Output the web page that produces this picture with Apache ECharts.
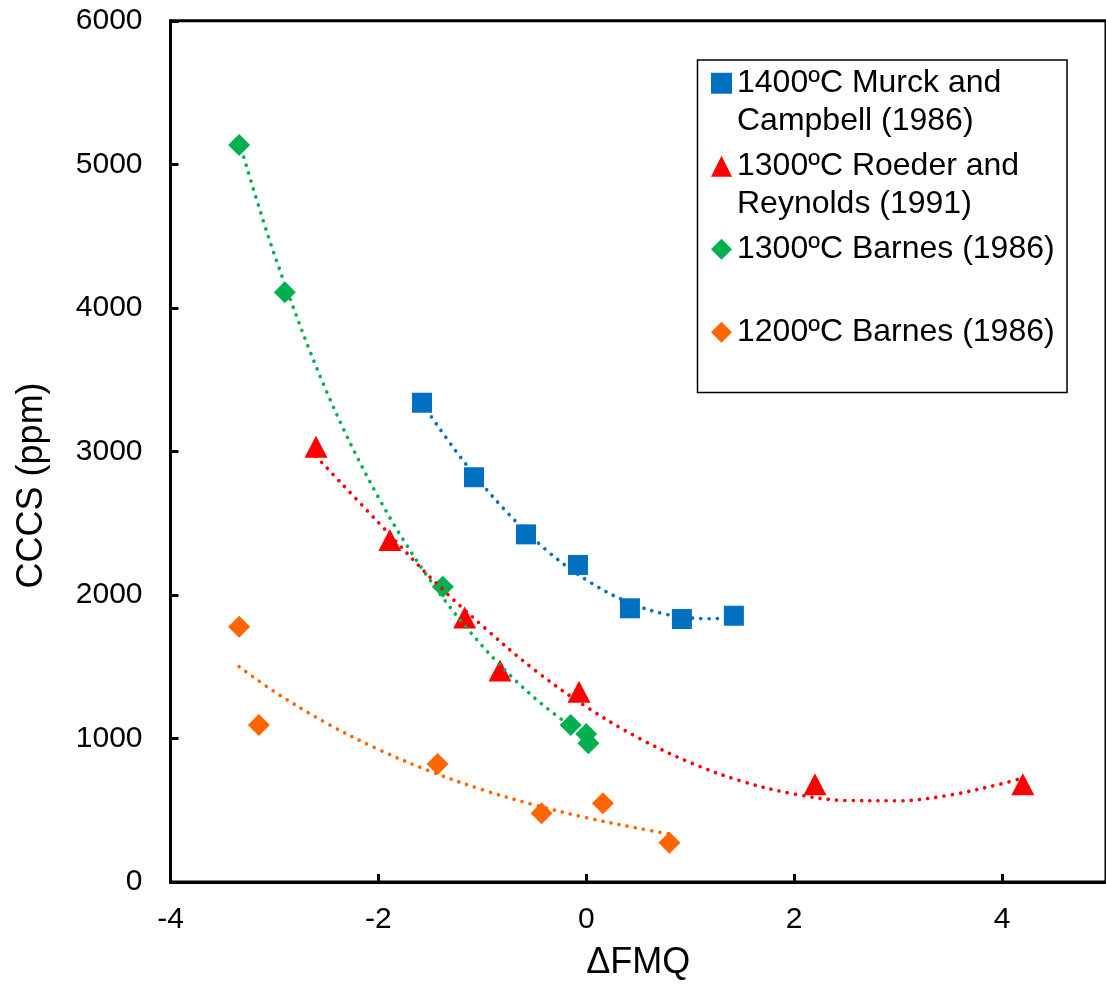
<!DOCTYPE html>
<html>
<head>
<meta charset="utf-8">
<script src="https://cdn.jsdelivr.net/npm/echarts@6/dist/echarts.min.js"></script>
<style>
  html, body { margin: 0; padding: 0; background: #fff; }
  #chart { width: 1106px; height: 987px; }
</style>
</head>
<body>
<div id="chart"></div>
<script>
// Sulfur content at sulfide saturation (CCCS) versus oxygen fugacity relative to FMQ

const seriesNames = [
  '1400ºC Murck and\nCampbell (1986)',
  '1300ºC Roeder and\nReynolds (1991)',
  '1300ºC Barnes (1986)',
  '1200ºC Barnes (1986)'
];

// Experimental points
const murckX = [-1.58, -1.08, -0.58, -0.08, 0.42, 0.92, 1.42];
const murckY = [3339, 2820, 2422, 2209, 1907, 1832, 1855];

const roederX = [-2.60, -1.89, -1.17, -0.83, -0.07, 2.20, 4.20];
const roederY = [3033, 2383, 1843, 1474, 1325, 681, 681];

const barnes1300X = [-3.34, -2.90, -1.38, -0.15, 0.00, 0.02];
const barnes1300Y = [5135, 4108, 2057, 1094, 1031, 966];

const barnes1200X = [-3.34, -3.15, -1.43, -0.43, 0.16, 0.80];
const barnes1200Y = [1779, 1094, 822, 479, 548, 274];

// Trend curves (dotted)
const murckTrendX = [-1.58, -1.2, -0.8, -0.4, 0, 0.4, 0.8, 1.2, 1.42];
const murckTrendY = [3335, 2950, 2605, 2322, 2105, 1950, 1860, 1834, 1845];

const roederTrendX = [-2.6, -2, -1.5, -1, -0.5, 0, 0.5, 1, 1.5, 2, 2.5, 3, 3.5, 4, 4.2];
const roederTrendY = [2965, 2505, 2122, 1785, 1479, 1221, 1005, 832, 701, 613, 568, 566, 606, 685, 725];

const barnes1300TrendX = [-3.34, -3, -2.5, -2, -1.5, -1, -0.5, 0.02];
const barnes1300TrendY = [5160, 4370, 3420, 2680, 2100, 1645, 1284, 996];

const barnes1200TrendX = [-3.34, -3, -2.5, -2, -1.5, -1, -0.5, 0, 0.5, 0.8];
const barnes1200TrendY = [1500, 1326, 1107, 924, 771, 643, 537, 448, 374, 335];

const colors = ['#0070C0', '#FF0000', '#00B050', '#FF6600'];
const FONT = '"Liberation Sans", Arial, Helvetica, sans-serif';

const zip = (xs, ys) => xs.map((x, i) => [x, ys[i]]);

function scatter(idx, xs, ys, symbol, size) {
  return {
    type: 'scatter',
    name: seriesNames[idx],
    data: zip(xs, ys),
    symbol: symbol,
    symbolSize: size,
    itemStyle: { color: colors[idx], opacity: 1 },
    z: 2
  };
}

function trend(idx, xs, ys) {
  return {
    type: 'line',
    data: zip(xs, ys),
    showSymbol: false,
    symbol: 'none',
    smooth: 0.35,
    silent: true,
    legendHoverLink: false,
    lineStyle: { color: colors[idx], width: 3.6, type: [0.1, 8.2], cap: 'round' },
    z: 3
  };
}

const chart = echarts.init(document.getElementById('chart'), null, { renderer: 'canvas' });

chart.setOption({
  animation: false,
  backgroundColor: '#fff',
  textStyle: { fontFamily: FONT },
  grid: {
    left: 170.5, top: 20.8, width: 937.7, height: 861.2,
    show: true, borderColor: '#000', borderWidth: 3, backgroundColor: 'transparent'
  },
  xAxis: {
    type: 'value', min: -4, max: 5, interval: 2,
    axisLine: { show: true, onZero: false, lineStyle: { color: '#000', width: 3 } },
    axisTick: { show: true, inside: true, length: 8, lineStyle: { color: '#000', width: 3 } },
    axisLabel: {
      fontSize: 30, color: '#000', fontFamily: FONT, margin: 23, showMaxLabel: false,
      formatter: v => String(v)
    },
    splitLine: { show: false },
    name: 'ΔFMQ', nameLocation: 'middle', nameGap: 63,
    nameTextStyle: { fontSize: 36, color: '#000', fontFamily: FONT }
  },
  yAxis: {
    type: 'value', min: 0, max: 6000, interval: 1000,
    axisLine: { show: true, onZero: false, lineStyle: { color: '#000', width: 3 } },
    axisTick: { show: true, inside: true, length: 8, lineStyle: { color: '#000', width: 3 } },
    axisLabel: {
      fontSize: 30, color: '#000', fontFamily: FONT, margin: 28,
      formatter: v => String(v)
    },
    splitLine: { show: false },
    name: 'CCCS (ppm)', nameLocation: 'middle', nameGap: 120,
    nameTextStyle: { fontSize: 36, color: '#000', fontFamily: FONT, padding: [0, 68, 0, 0] }
  },
  legend: {
    orient: 'vertical',
    left: 711, top: 27, padding: 0,
    itemWidth: 21, itemHeight: 21, itemGap: -29.5,
    selectedMode: false,
    textStyle: { fontSize: 32, lineHeight: 37.5, color: '#000', fontFamily: FONT },
    // every entry spans three text lines so the marker sits beside the first line of text
    formatter: name => '\n' + name + (name.indexOf('\n') >= 0 ? '' : '\n'),
    data: [
      { name: seriesNames[0], icon: 'rect' },
      { name: seriesNames[1], icon: 'triangle' },
      { name: seriesNames[2], icon: 'diamond' },
      { name: seriesNames[3], icon: 'diamond' }
    ]
  },
  graphic: [{
    type: 'rect',
    shape: { x: 697.5, y: 60, width: 369.5, height: 332.5 },
    style: { fill: 'none', stroke: '#000', lineWidth: 1.5 },
    z: 10
  }],
  series: [
    scatter(0, murckX, murckY, 'rect', 20),
    scatter(1, roederX, roederY, 'triangle', [23, 22]),
    scatter(2, barnes1300X, barnes1300Y, 'diamond', 22),
    scatter(3, barnes1200X, barnes1200Y, 'diamond', 22),
    trend(0, murckTrendX, murckTrendY),
    trend(1, roederTrendX, roederTrendY),
    trend(2, barnes1300TrendX, barnes1300TrendY),
    trend(3, barnes1200TrendX, barnes1200TrendY)
  ]
});
</script>
</body>
</html>
